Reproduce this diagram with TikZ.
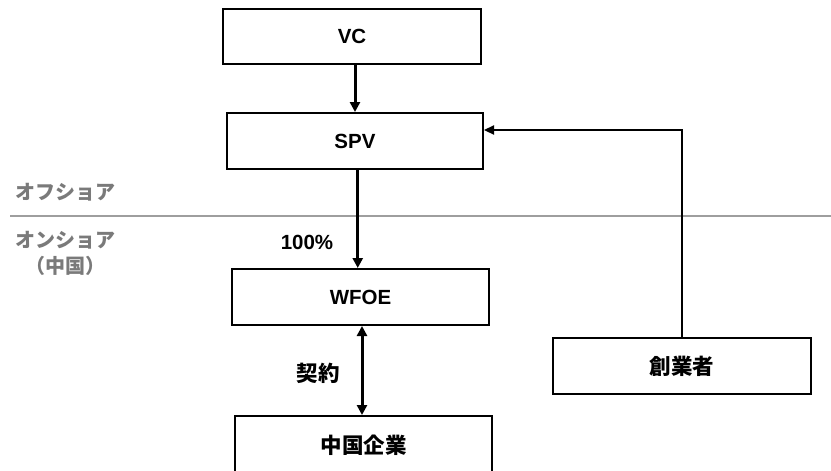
\documentclass[tikz,border=0pt]{standalone}
\usepackage{fontspec}
\setmainfont{Liberation Sans}
\newfontfamily\jp{Noto Sans CJK JP}
\usetikzlibrary{arrows.meta,calc}
\begin{document}
\begin{tikzpicture}[x=1pt,y=-1pt,
  box/.style={draw=black,line width=2pt,fill=white,inner sep=0pt,
    font=\fontsize{20.5}{24}\selectfont\bfseries},
  jbox/.style={box,font=\jp\fontsize{21.5}{24}\selectfont\bfseries},
  arr/.style={line width=3pt,-{Triangle[width=10pt,length=10pt]}},
  darr/.style={line width=3pt,{Triangle[width=10pt,length=10pt]}-{Triangle[width=10pt,length=10pt]}},
  farr/.style={line width=2.3pt,-{Triangle[width=9pt,length=10pt]}},
  zone/.style={text=black!52,font=\jp\fontsize{20}{26}\selectfont\bfseries,align=center,inner sep=0pt},
  lbl/.style={inner sep=0pt,font=\fontsize{20.5}{24}\selectfont\bfseries}]
\useasboundingbox (0,0) rectangle (831,471);
\clip (0,0) rectangle (831,471);
\fill[white] (0,0) rectangle (831,471);
% divider
\coordinate (dl) at (10,216);
\coordinate (dr) at (831,216);
\draw[line width=2pt,black!38] (dl) -- (dr);
% boxes
\node[box,minimum width=258pt,minimum height=55pt] (vc) at (352,36.5) {VC};
\node[box,minimum width=256pt,minimum height=56pt] (spv) at (355,141) {SPV};
\node[box,minimum width=257pt,minimum height=56pt] (wfoe) at (360.5,297) {WFOE};
\node[jbox,minimum width=257pt,minimum height=58pt] (cn) at (363.5,445) {中国企業};
\node[jbox,minimum width=258pt,minimum height=56pt] (fd) at (682,366) {創業者};
% zone labels
\node[zone] (off) at (66,192) {オフショア};
\node[zone] (on) at (66,253) {オンショア\\（中国）};
% labels
\node[lbl] (pct) at (307,242) {100\%};
\node[jbox,draw=none,fill=none] (kei) at (318,373) {契約};
% connectors
\coordinate (m1) at ($(spv.south)!0.5!(wfoe.north)$);
\coordinate (m2) at ($(wfoe.south)!0.5!(cn.north)$);
\draw[arr] (spv.north |- vc.south) -- (spv.north);
\draw[arr] (spv.south -| m1) -- (wfoe.north -| m1);
\draw[darr] (wfoe.south -| m2) -- (cn.north -| m2);
\draw[farr] (fd.north) |- ([yshift=11pt]spv.east);
\end{tikzpicture}
\end{document}
